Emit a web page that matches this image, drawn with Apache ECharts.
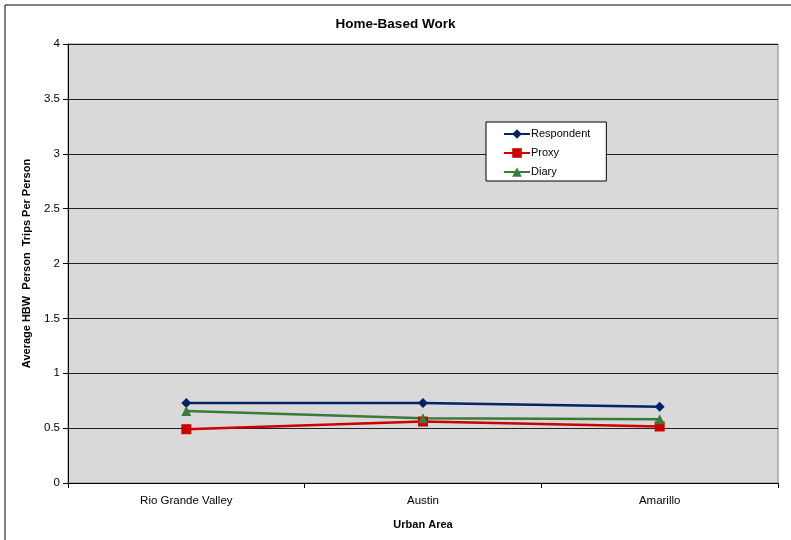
<!DOCTYPE html>
<html><head><meta charset="utf-8">
<script src="https://cdn.jsdelivr.net/npm/echarts@6/dist/echarts.min.js"></script>
<style>html,body{margin:0;padding:0;background:#fff}#c{width:791px;height:540px}</style>
</head><body><div id="c"></div>
<script>
const categories = ["Rio Grande Valley", "Austin", "Amarillo"];
const respondent = [0.73, 0.73, 0.695];
const proxy = [0.49, 0.56, 0.515];
const diary = [0.655, 0.59, 0.58];
const yTicks = {min: 0, max: 4, interval: 0.5};

const F = '"Liberation Sans", Arial, sans-serif';
const chart = echarts.init(document.getElementById('c'));
chart.setOption({
  animation: false,
  textStyle: {fontFamily: F},
  graphic: [{type: 'rect', shape: {x: 5, y: 5, width: 900, height: 700}, style: {fill: 'none', stroke: '#000', lineWidth: 1}, silent: true}],
  title: {text: 'Home-Based Work', left: 'center', top: 12, textStyle: {fontFamily: F, fontSize: 13.5, fontWeight: 'bold', color: '#000'}},
  grid: {left: 68, top: 44, right: 13, bottom: 57, show: true, backgroundColor: '#d9d9d9', borderColor: '#808080', borderWidth: 1},
  legend: {
    orient: 'vertical', left: 486, top: 122,
    backgroundColor: '#fff', borderColor: '#000', borderWidth: 1,
    padding: [6, 16, 3, 17], itemGap: 7, itemWidth: 26, itemHeight: 12,
    textStyle: {fontFamily: F, fontSize: 11, lineHeight: 12, color: '#000', padding: [0, 0, 0, -4]},
    data: ['Respondent', 'Proxy', 'Diary']
  },
  xAxis: {
    type: 'category', data: categories, boundaryGap: true,
    name: 'Urban Area', nameLocation: 'middle', nameGap: 36,
    nameTextStyle: {fontFamily: F, fontSize: 11, fontWeight: 'bold', color: '#000'},
    axisLine: {lineStyle: {color: '#000', width: 1}},
    axisTick: {show: true, length: 5, lineStyle: {color: '#000'}},
    axisLabel: {fontFamily: F, fontSize: 11.5, color: '#000', margin: 12}
  },
  yAxis: {
    type: 'value', min: yTicks.min, max: yTicks.max, interval: yTicks.interval,
    name: 'Average HBW  Person  Trips Per Person', nameLocation: 'middle', nameGap: 36,
    nameTextStyle: {fontFamily: F, fontSize: 11, fontWeight: 'bold', color: '#000'},
    axisLine: {show: true, lineStyle: {color: '#000', width: 1}},
    axisTick: {show: true, length: 5, lineStyle: {color: '#000'}},
    axisLabel: {fontFamily: F, fontSize: 11.5, color: '#000', margin: 8},
    splitLine: {show: true, lineStyle: {color: '#222', width: 1}}
  },
  series: [
    {name: 'Respondent', type: 'line', data: respondent, symbol: 'diamond', symbolSize: 10,
     itemStyle: {color: '#002266'}, lineStyle: {color: '#002266', width: 2.5}},
    {name: 'Proxy', type: 'line', data: proxy, symbol: 'rect', symbolSize: 10,
     itemStyle: {color: '#cc0000'}, lineStyle: {color: '#cc0000', width: 2.5}},
    {name: 'Diary', type: 'line', data: diary, symbol: 'triangle', symbolSize: 10,
     itemStyle: {color: '#3a7a3a'}, lineStyle: {color: '#3a7a3a', width: 2.5}}
  ]
});
</script></body></html>
